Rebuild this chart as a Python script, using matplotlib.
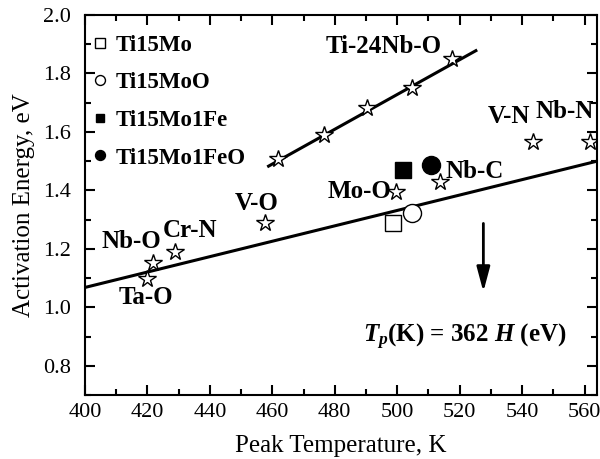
import matplotlib
matplotlib.use("Agg")
import matplotlib.pyplot as plt
from matplotlib.ticker import MultipleLocator

plt.rcParams['font.family'] = ['Liberation Serif', 'DejaVu Serif']
plt.rcParams['mathtext.fontset'] = 'custom'
plt.rcParams['mathtext.rm'] = 'Liberation Serif:bold'
plt.rcParams['mathtext.it'] = 'Liberation Serif:italic:bold'
plt.rcParams['mathtext.bf'] = 'Liberation Serif:bold'

# Ti-24Nb-O series (stars on the upper fit line)
tinb_T = [461.8, 476.5, 490.4, 504.7, 517.4]
tinb_E = [1.506, 1.590, 1.681, 1.749, 1.848]
tinb_fit_T = [458.8, 525.2]
tinb_fit_E = [1.483, 1.878]

# literature interstitial pairs (stars)
pair_names = ['Ta-O', 'Nb-O', 'Cr-N', 'V-O', 'Mo-O', 'Nb-C', 'V-N', 'Nb-N']
pair_T = [419.8, 421.9, 428.9, 457.8, 499.5, 513.7, 543.6, 561.6]
pair_E = [1.097, 1.150, 1.188, 1.287, 1.395, 1.430, 1.567, 1.567]

# Tp = 362 H line
main_fit_T = [400, 564]
main_fit_E = [1.068, 1.500]

# alloys of this work
alloy_names = ['Ti15Mo', 'Ti15MoO', 'Ti15Mo1Fe', 'Ti15Mo1FeO']
alloy_T = [498.7, 504.9, 501.7, 510.8]
alloy_E = [1.287, 1.322, 1.470, 1.487]

arrow_T = 527.6
arrow_E = (1.287, 1.053)

fig = plt.figure(figsize=(6.0, 4.59), dpi=100)
ax = fig.add_axes([0.1417, 0.1394, 0.8533, 0.8279])

ax.plot(tinb_fit_T, tinb_fit_E, color='black', lw=2.2)
ax.plot(main_fit_T, main_fit_E, color='black', lw=2.2)
star = dict(marker='*', ls='none', ms=13, mfc='white', mec='black', mew=1.0)
ax.plot(tinb_T, tinb_E, **star)
ax.plot(pair_T, pair_E, **star)

styles = [dict(marker='s', ms=12, mfc='white'),
          dict(marker='o', ms=13, mfc='white'),
          dict(marker='s', ms=11, mfc='black'),
          dict(marker='o', ms=13, mfc='black')]
handles = []
for name, t, e, st in zip(alloy_names, alloy_T, alloy_E, styles):
    h, = ax.plot([t], [e], ls='none', mec='black', mew=1.0, label=name, **st)
    handles.append(h)

bold = dict(fontsize=18, fontweight='bold', ha='center', va='center')
# label offsets in points relative to each star
offsets = [(-1, -13), (-15.5, 15.5), (11, 16), (-6, 14.4),
           (-26, 0), (25, 7), (-17.5, 18), (-18, 21.5)]
for name, t, e, off in zip(pair_names, pair_T, pair_E, offsets):
    ax.annotate(name, (t, e), xytext=off, textcoords='offset points', **bold)
ax.annotate('Ti-24Nb-O', (tinb_T[-1], tinb_E[-1]), xytext=(-49, 9),
            textcoords='offset points', **bold)

ax.annotate('', xy=(arrow_T, arrow_E[1]), xytext=(arrow_T, arrow_E[0]),
            arrowprops=dict(arrowstyle='-|>,head_length=0.75,head_width=0.2',
                            lw=2, color='black', mutation_scale=20,
                            shrinkA=0, shrinkB=0))
ax.text(489.2, 0.9, r'$T_p$(K) = 362 $H$ (eV)', fontsize=18,
        fontweight='bold', ha='left', va='center')

ax.legend(handles=handles, loc='upper left', bbox_to_anchor=(-0.008, 0.984),
          frameon=False, markerscale=0.55,
          handlelength=0.5, handletextpad=0.4, labelspacing=0.72,
          borderaxespad=0.2, prop=dict(family='Liberation Serif', weight='bold', size=16.5))

ax.set_xlim(400, 564)
ax.set_ylim(0.7, 2.0)
ax.xaxis.set_major_locator(MultipleLocator(20))
ax.xaxis.set_minor_locator(MultipleLocator(10))
ax.yaxis.set_minor_locator(MultipleLocator(0.1))
ax.set_yticks([0.8, 1.0, 1.2, 1.4, 1.6, 1.8, 2.0])
ax.set_yticklabels(['0.8', '1.0', '1.2', '1.4', '1.6', '1.8', '2.0'])
ax.tick_params(which='both', direction='in', top=True, right=True, width=1.5, labelsize=16)
ax.tick_params(which='major', length=7)
ax.tick_params(which='minor', length=4)
ax.tick_params(axis='x', pad=6)
ax.tick_params(axis='y', pad=10)
for s in ax.spines.values():
    s.set_linewidth(1.5)
ax.set_xlabel('Peak Temperature, K', fontsize=18, labelpad=9)
ax.set_ylabel('Activation Energy, eV', fontsize=18, labelpad=6)

fig.savefig('out.png', dpi=100)
